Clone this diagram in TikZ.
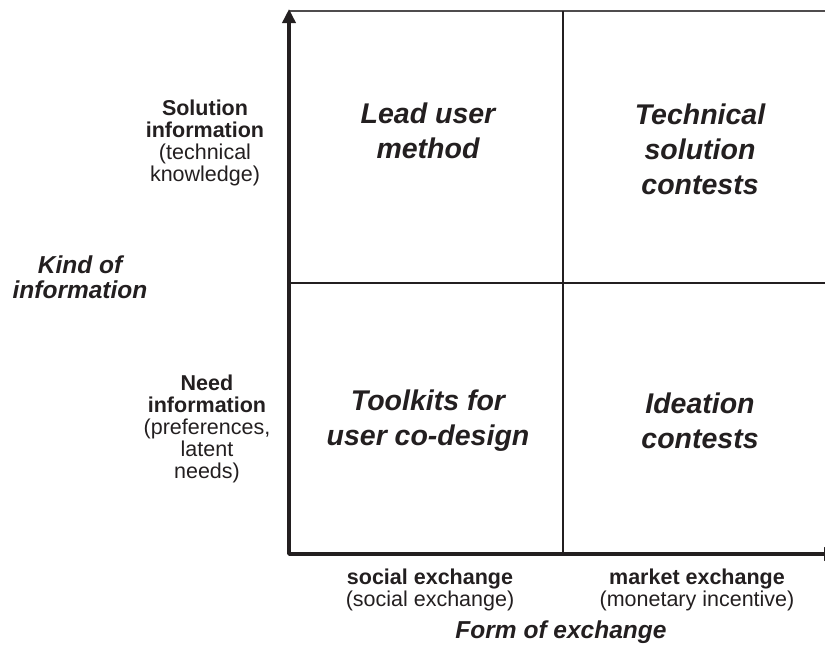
\documentclass[tikz,border=0pt]{standalone}
\usepackage{fontspec}
\setmainfont{Liberation Sans}
\usetikzlibrary{arrows.meta}
\definecolor{ink}{HTML}{231F20}
\begin{document}
\begin{tikzpicture}[x=1pt,y=-1pt,
  quad/.style={align=center,font=\fontsize{28.5}{35}\selectfont\bfseries\itshape,text=ink,inner sep=0pt},
  side/.style={align=center,font=\fontsize{21.5}{22}\selectfont,text=ink,inner sep=0pt},
  axtitle/.style={align=center,font=\fontsize{24.5}{25.5}\selectfont\bfseries\itshape,text=ink,inner sep=0pt},
  axisline/.style={line width=3.6pt,ink,line join=round,{Triangle[width=13pt 0,length=14pt 0]}-{Triangle[width=13pt 0,length=14pt 0]}},
  gridline/.style={line width=1.3pt,ink}]
\useasboundingbox (0,0) rectangle (825,648);
% coordinates
\coordinate (top) at (289,9);
\coordinate (corner) at (289,554);
\coordinate (right) at (838,554);
\coordinate (tl) at (289,11);
\coordinate (tr) at (830,11);
\coordinate (mt) at (563,11);
\coordinate (mb) at (563,554);
\coordinate (ml) at (289,283);
\coordinate (mr) at (830,283);
% grid
\draw[gridline,draw=ink!80] (tl) -- (tr);
\draw[gridline] (mt) -- (mb);
\draw[gridline] (ml) -- (mr);
\draw[axisline] (top) -- (corner) -- (right);
% quadrant texts
\node[quad] (lead) at (428,131) {Lead user\\method};
\node[quad] (tech) at (700,149) {Technical\\solution\\contests};
\node[quad] (tool) at (428,421) {Toolkits for\\user co-design};
\node[quad] (idea) at (700,421) {Ideation\\contests};
% side labels
\node[side] (sol) at (205,143) {\textbf{Solution}\\\textbf{information}\\(technical\\knowledge)};
\node[side] (need) at (207,429) {\textbf{Need}\\\textbf{information}\\(preferences,\\latent\\needs)};
\node[axtitle] (kind) at (80,277) {Kind of\\information};
\node[side] (soc) at (430,590) {\textbf{social exchange}\\(social exchange)};
\node[side] (mkt) at (697,590) {\textbf{market exchange}\\(monetary incentive)};
\node[axtitle] (form) at (561,632) {Form of exchange};
\end{tikzpicture}
\end{document}
